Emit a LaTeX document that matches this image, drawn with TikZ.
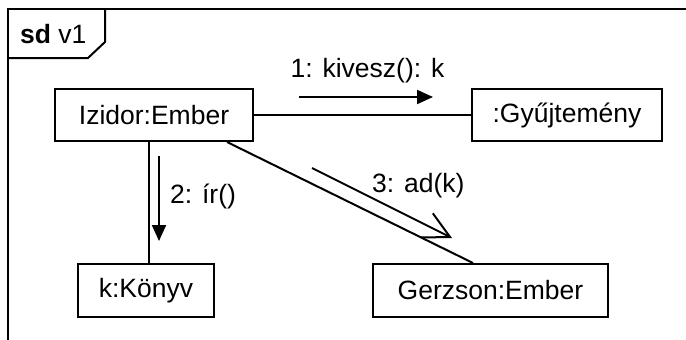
\documentclass[tikz,border=0pt]{standalone}
\usepackage{fontspec}
\setmainfont{Liberation Sans}
\usetikzlibrary{arrows.meta}
\tikzset{
  obj/.style={draw, line width=2pt, inner sep=0pt, minimum height=52pt, font=\fontsize{26.5}{31}\selectfont},
  lbl/.style={inner sep=0pt, font=\fontsize{26.5}{31}\selectfont},
  link/.style={line width=2pt},
  msg/.style={line width=2pt, -{Triangle[length=16pt,width=14pt]}},
  asyncmsg/.style={line width=2pt, -{Straight Barb[length=26pt,width=27pt]}}
}
\begin{document}
\begin{tikzpicture}[x=1pt,y=-1pt]
\useasboundingbox (0,0) rectangle (686,340);
% frame
\draw[link] (8,340) -- (8,9) -- (690,9);
\draw[link] (8,58) -- (88,58) -- (105,42) -- (105,9);
\node[lbl, anchor=base west] (title) at (20,43) {\textbf{sd} v1};
% objects
\node[obj, minimum width=198pt] (izidor) at (154,115) {Izidor:Ember};
\node[obj, minimum width=190pt] (gyujt) at (567,115) {:Gyűjtemény};
\node[obj, minimum width=136pt, minimum height=53pt] (konyv) at (146,290.5) {k:Könyv};
\node[obj, minimum width=235pt, minimum height=53pt] (gerzson) at (490.5,290.5) {Gerzson:Ember};
% links
\draw[link] (izidor.east) -- (gyujt.west);
\draw[link] ([xshift=-5pt]izidor.south) -- ([xshift=3pt]konyv.north);
\draw[link] ([xshift=73pt]izidor.south) -- ([xshift=-17.5pt]gerzson.north);
% messages
\coordinate (m1s) at (299,97);
\coordinate (m1e) at (433,97);
\draw[msg] (m1s) -- (m1e);
\node[lbl, anchor=base] (l1) at (367.5,77) {1: kivesz(): k};
\coordinate (m2s) at (159,156);
\coordinate (m2e) at (159,241);
\draw[msg] (m2s) -- (m2e);
\node[lbl, anchor=base west] (l2) at (170,203) {2: ír()};
\coordinate (m3s) at (312,168);
\coordinate (m3e) at (452,238);
\draw[asyncmsg] (m3s) -- (m3e);
\node[lbl, anchor=base west] (l3) at (372,192) {3: ad(k)};
\end{tikzpicture}
\end{document}
